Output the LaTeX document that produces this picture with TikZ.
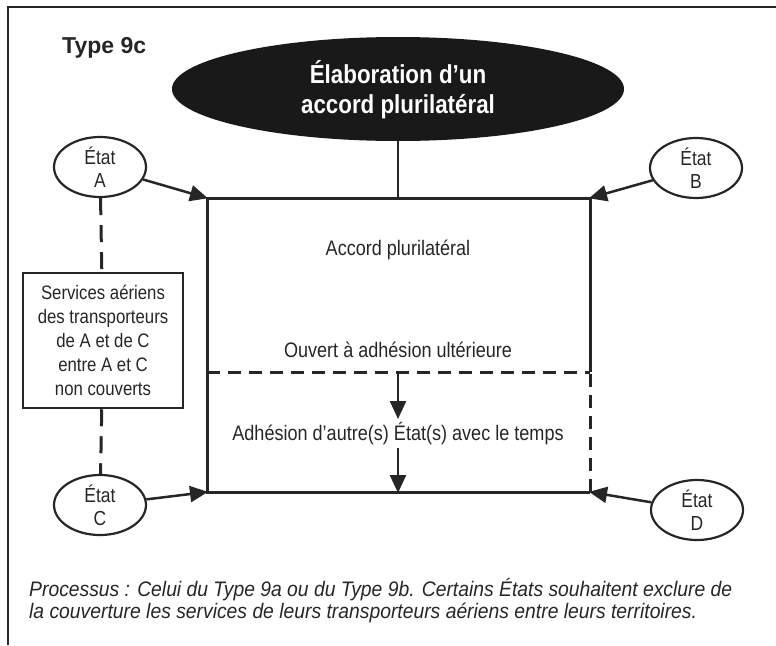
\documentclass[tikz,border=0pt]{standalone}
\usepackage{fontspec}
\setmainfont[FakeStretch=0.86]{Liberation Sans}
\newfontfamily\plainfont{Liberation Sans}
\newfontfamily\notefont[FakeStretch=0.92]{Liberation Sans}
\usetikzlibrary{shapes.geometric,arrows.meta}

\tikzset{
  frameline/.style={line width=2pt, draw=black!85},
  boxline/.style={line width=3pt, draw=black!85},
  dashline/.style={line width=3pt, draw=black!85, dash pattern=on 13pt off 8pt},
  stateell/.style={ellipse, draw=black!85, line width=2.2pt, minimum width=92pt, minimum height=60pt, inner sep=0pt},
  statetxt/.style={align=center, font=\fontsize{20.3}{23}\selectfont, text=black!85},
  bodytxt/.style={align=center, font=\fontsize{21}{24}\selectfont, text=black!85, inner sep=0pt},
  notetxt/.style={anchor=base west, inner sep=0pt, text=black!85, font=\notefont\itshape\fontsize{21}{22}\selectfont},
  arr/.style={line width=2.5pt, draw=black!85, -{Triangle[length=18pt,width=16pt]}, shorten >=-1pt},
}

\begin{document}
\begin{tikzpicture}[x=1pt, y=-1pt]
  \useasboundingbox (0,0) rectangle (776,645);

  % outer frame (top and left edges)
  \draw[frameline] (7,7) -- (776,7);
  \draw[frameline] (8,7) -- (8,645);

  % title
  \node[anchor=west, font=\plainfont\bfseries\fontsize{23}{26}\selectfont, text=black!85, inner sep=0pt] (title) at (62,48) {Type 9c};

  % central black ellipse
  \node[ellipse, fill=black!90, minimum width=452pt, minimum height=104pt, inner sep=0pt] (elab) at (398,89) {};
  \node[align=center, text=white, font=\bfseries\fontsize{26}{30}\selectfont] (elabtxt) at (398,90) {Élaboration d’un\\accord plurilatéral};

  % corners of the agreement box
  \coordinate (tl) at (207,198);
  \coordinate (tr) at (590,198);
  \coordinate (bl) at (207,492);
  \coordinate (br) at (590,492);
  \coordinate (ml) at (207,372);
  \coordinate (mr) at (590,372);
  \coordinate (tm) at (398,198);
  \coordinate (mm) at (398,372);
  \coordinate (bm) at (398,492);
  \coordinate (a1) at (398,418);
  \coordinate (a2) at (398,448);

  % agreement box
  \draw[boxline, line join=miter] (mr) -- (tr) -- (tl) -- (bl) -- (br);
  \draw[dashline] (ml) -- (mr);
  \draw[dashline] (br) -- (mr);

  % link from the ellipse
  \draw[boxline, line width=2.7pt] (elab.south) -- (tm);

  % texts inside the box
  \node[bodytxt] (accord) at (398,250) {Accord plurilatéral};
  \node[bodytxt] (ouvert) at (398,350) {Ouvert à adhésion ultérieure};
  \node[bodytxt] (adh) at (398,434) {Adhésion d’autre(s) État(s) avec le temps};

  \draw[arr] (mm) -- (a1);
  \draw[arr] (a2) -- (bm);

  % states
  \node[stateell] (A) at (100,167) {};
  \node[statetxt] at (A) {État\\A};
  \node[stateell] (B) at (696,168) {};
  \node[statetxt] at (B) {État\\B};
  \node[stateell] (C) at (100,505) {};
  \node[statetxt] at (C) {État\\C};
  \node[stateell] (D) at (697,510) {};
  \node[statetxt] at (D) {État\\D};

  \draw[arr] (A) -- (tl);
  \draw[arr] (B) -- (tr);
  \draw[arr] (C) -- (bl);
  \draw[arr] (D) -- (br);

  % services not covered between A and C
  \node[draw=black!85, line width=2.5pt, minimum width=160pt, minimum height=135pt, align=center,
        font=\fontsize{19.5}{24}\selectfont, text=black!85, inner sep=0pt] (serv) at (103,340.5)
        {Services aériens\\des transporteurs\\de A et de C\\entre A et C\\non couverts};
  \draw[dashline, dash pattern=on 17pt off 10pt] (A) -- (serv);
  \draw[dashline, dash pattern=on 17pt off 10pt] (serv) -- (C);

  % process note
  \node[notetxt] (note1) at (29,596)
        {Processus : Celui du Type 9a ou du Type 9b. Certains États souhaitent exclure de};
  \node[notetxt] (note2) at (29,618)
        {la couverture les services de leurs transporteurs aériens entre leurs territoires.};
\end{tikzpicture}
\end{document}
